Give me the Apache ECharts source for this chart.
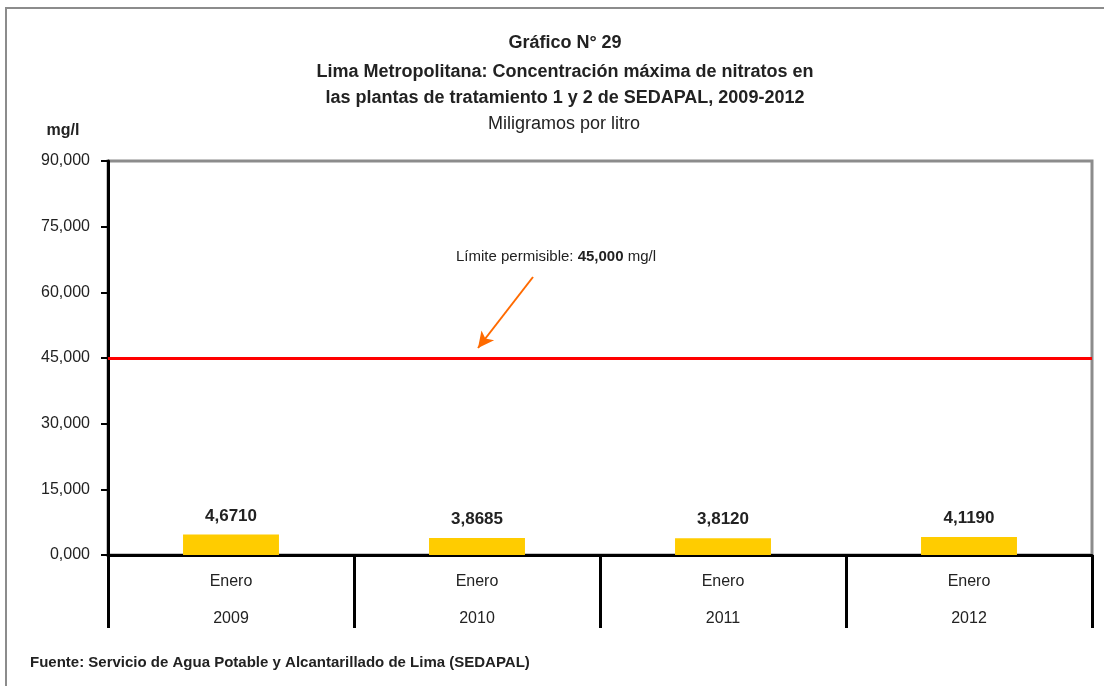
<!DOCTYPE html>
<html>
<head>
<meta charset="utf-8">
<script src="https://cdn.jsdelivr.net/npm/echarts@6/dist/echarts.min.js"></script>
<style>
  html, body { margin: 0; padding: 0; background: #fff; }
  #chart { width: 1104px; height: 686px; }
</style>
</head>
<body>
<div id="chart"></div>
<script>
var meses = ['Enero', 'Enero', 'Enero', 'Enero'];
var anios = ['2009', '2010', '2011', '2012'];
var nitratos = [4.6710, 3.8685, 3.8120, 4.1190];
var limite = 45;
var yTicks = [0, 15, 30, 45, 60, 75, 90];

var fuente = 'Liberation Sans, Arial, sans-serif';

var categorias = anios.map(function (a, i) { return meses[i] + '\n' + a; });

function coma(v, d) {
    return v.toFixed(d).replace('.', ',');
}

var myChart = echarts.init(document.getElementById('chart'));

var option = {
    backgroundColor: '#fff',
    animation: false,
    textStyle: { fontFamily: fuente },
    grid: {
        left: 108, right: 12, top: 161, bottom: 131,
        show: true,
        borderColor: '#8c8c8c',
        borderWidth: 3
    },
    xAxis: {
        type: 'category',
        data: categorias,
        axisLine: { lineStyle: { color: '#000', width: 3 } },
        axisTick: { show: true, length: 73, interval: 0, lineStyle: { color: '#000', width: 3 } },
        axisLabel: {
            interval: 0,
            margin: 8,
            color: '#222',
            fontSize: 16,
            lineHeight: 37,
            fontFamily: fuente
        }
    },
    yAxis: {
        type: 'value',
        min: yTicks[0],
        max: yTicks[yTicks.length - 1],
        interval: 15,
        splitLine: { show: false },
        axisLine: { show: true, lineStyle: { color: '#000', width: 3 } },
        axisTick: { show: true, length: 7, lineStyle: { color: '#000', width: 2 } },
        axisLabel: {
            margin: 18,
            color: '#222',
            fontSize: 16,
            fontFamily: fuente,
            formatter: function (v) { return coma(v, 3); }
        }
    },
    series: [
        {
            type: 'bar',
            data: nitratos,
            barWidth: '39%',
            itemStyle: { color: '#ffcc00' },
            label: {
                show: true,
                position: 'top',
                distance: 10,
                fontSize: 17,
                fontWeight: 'bold',
                color: '#222',
                fontFamily: fuente,
                formatter: function (p) { return coma(p.value, 4); }
            },
            markLine: {
                silent: true,
                symbol: 'none',
                label: { show: false },
                lineStyle: { color: '#ff0000', width: 3, type: 'solid' },
                data: [{ yAxis: limite }]
            },
            z: 3
        },
        {
            // flecha de la anotación
            type: 'line',
            data: [],
            markLine: {
                silent: true,
                symbol: ['none', 'arrow'],
                symbolSize: [12, 16],
                label: { show: false },
                lineStyle: { color: '#ff6a00', width: 2, type: 'solid' },
                data: [[{ x: 533, y: 277 }, { x: 478, y: 348 }]]
            }
        }
    ],
    graphic: [
        {
            type: 'rect',
            shape: { x: 6, y: 8, width: 1120, height: 700 },
            style: { fill: 'none', stroke: '#8c8c8c', lineWidth: 2 },
            silent: true
        },
        {
            type: 'text', x: 565, y: 43,
            style: { text: 'Gráfico N° 29', align: 'center', verticalAlign: 'middle',
                font: 'bold 18px ' + fuente, fill: '#222' }
        },
        {
            type: 'text', x: 565, y: 72,
            style: { text: 'Lima Metropolitana: Concentración máxima de nitratos en', align: 'center', verticalAlign: 'middle',
                font: 'bold 18px ' + fuente, fill: '#222' }
        },
        {
            type: 'text', x: 565, y: 98,
            style: { text: 'las plantas de tratamiento 1 y 2 de SEDAPAL, 2009-2012', align: 'center', verticalAlign: 'middle',
                font: 'bold 18px ' + fuente, fill: '#222' }
        },
        {
            type: 'text', x: 564, y: 124,
            style: { text: 'Miligramos por litro', align: 'center', verticalAlign: 'middle',
                font: '18px ' + fuente, fill: '#222' }
        },
        {
            type: 'text', x: 63, y: 131,
            style: { text: 'mg/l', align: 'center', verticalAlign: 'middle',
                font: 'bold 16px ' + fuente, fill: '#222' }
        },
        {
            type: 'text', x: 556, y: 257,
            style: {
                text: '{n|Límite permisible: }{b|45,000}{n| mg/l}',
                align: 'center', verticalAlign: 'middle',
                rich: {
                    n: { fontSize: 15, fontFamily: fuente, fill: '#222' },
                    b: { fontSize: 15, fontFamily: fuente, fontWeight: 'bold', fill: '#222' }
                }
            }
        },
        {
            type: 'text', x: 30, y: 663,
            style: { text: 'Fuente: Servicio de Agua Potable y Alcantarillado de Lima (SEDAPAL)', align: 'left', verticalAlign: 'middle',
                font: 'bold 15px ' + fuente, fill: '#222' }
        }
    ]
};

myChart.setOption(option);
window.addEventListener('resize', function () {
    myChart.resize();
});
</script>
</body>
</html>
